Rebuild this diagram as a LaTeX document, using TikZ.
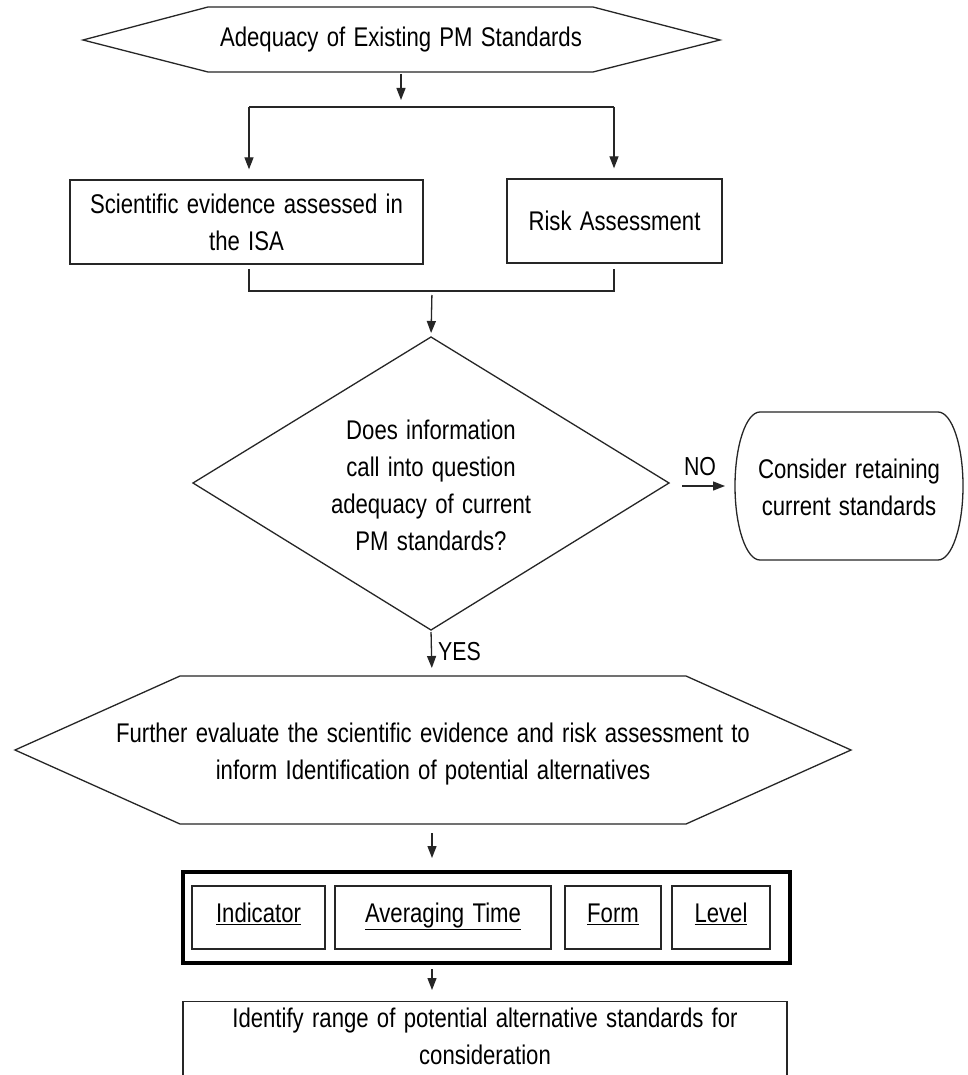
\documentclass[tikz,border=0pt]{standalone}
\usepackage{fontspec}
\setmainfont{Liberation Sans}[FakeStretch=0.82,WordSpace=1.35]
\usetikzlibrary{arrows.meta}
\begin{document}
\begin{tikzpicture}[x=1pt,y=-1pt,
  line/.style={draw=black!85, line width=1.3pt},
  arr/.style={draw=black!85, line width=1.3pt, -{Triangle[length=12pt,width=9pt]}},
  txt/.style={font=\fontsize{27}{37}\selectfont, align=center, inner sep=0pt},
  lbl/.style={font=\fontsize{26}{28}\selectfont, inner sep=0pt},
  plainbox/.style={line, txt, rectangle, inner sep=0pt},
  ubox/.style={plainbox, minimum height=63pt, text height=19pt, text depth=9pt},
  thickbox/.style={draw=black, line width=4pt, rectangle, inner sep=0pt}]
\useasboundingbox (0,0) rectangle (967,1075);
\fill[white] (0,0) rectangle (967,1075);

% top hexagon
\coordinate (h1L) at (83,40);
\coordinate (h1R) at (720,40);
\draw[line] (h1L) -- (208,7) -- (593,7) -- (h1R) -- (593,72) -- (208,72) -- cycle;
\node[txt] (adeq) at (401,40) {Adequacy of Existing PM Standards};
\coordinate (h1B) at (401,74);
\coordinate (j1) at (401,107);
\coordinate (j1L) at (249,107);
\coordinate (j1R) at (614,107);
\draw[arr, shorten >=7pt] (h1B) -- (j1);
\draw[line] (j1L) -- (j1R);

% two boxes
\node[plainbox, minimum width=353pt, minimum height=84pt] (sci) at (246.5,222) {Scientific evidence assessed in\\the ISA};
\node[plainbox, minimum width=215pt, minimum height=84pt] (risk) at (614.5,221) {Risk Assessment};
\draw[arr, shorten >=10pt] (j1L) -- (j1L |- sci.north);
\draw[arr, shorten >=10pt] (j1R) -- (j1R |- risk.north);

% bracket
\coordinate (b1) at (249,269);
\coordinate (b2) at (249,291);
\coordinate (b3) at (614,291);
\coordinate (b4) at (614,269);
\draw[line] (b1) -- (b2) -- (b3) -- (b4);
\coordinate (bm) at (432,291);

% diamond
\coordinate (dT) at (431,337);
\coordinate (dL) at (193,483);
\coordinate (dR) at (669,483);
\coordinate (dB) at (431,630);
\draw[line] (dT) -- (dR) -- (dB) -- (dL) -- cycle;
\node[txt] (q) at (431,485) {Does information\\call into question\\adequacy of current\\PM standards?};
\draw[arr, shorten <=4pt, shorten >=4pt] (bm) -- (dT);

% consider retaining
\draw[line] (760,412) -- (938,412) arc(-90:90:25 and 74) -- (760,560) arc(90:270:25 and 74) -- cycle;
\coordinate (cL) at (735,486);
\node[txt] (keep) at (849,487) {Consider retaining\\current standards};
\draw[arr, shorten <=13pt, shorten >=10pt] (dR |- cL) -- (cL);
\node[lbl] (no) at (700,467) {NO};

% second hexagon
\coordinate (h2L) at (15,750);
\coordinate (h2R) at (851,750);
\coordinate (h2T) at (432,676);
\coordinate (h2B) at (432,824);
\draw[line] (h2L) -- (180,676) -- (686,676) -- (h2R) -- (686,824) -- (180,824) -- cycle;
\node[txt] (further) at (433,754) {Further evaluate the scientific evidence and risk assessment to\\inform Identification of potential alternatives};
\draw[arr, shorten <=2pt, shorten >=8pt] (dB) -- (h2T);
\node[lbl, anchor=west] (yes) at (438,652) {YES};

% thick box with four inner boxes
\node[thickbox, minimum width=607pt, minimum height=91pt] (outer) at (486.5,917.5) {};
\node[ubox, minimum width=133pt] (ind) at (258.5,917.5) {\underline{Indicator}};
\node[ubox, minimum width=216pt] (avg) at (443,917.5) {\underline{Averaging Time}};
\node[ubox, minimum width=96pt] (form) at (613,917.5) {\underline{Form}};
\node[ubox, minimum width=98pt] (lev) at (721,917.5) {\underline{Level}};
\draw[arr, shorten <=9pt, shorten >=12pt] (h2B) -- (h2B |- outer.north);

% final box
\node[line, rectangle, minimum width=604pt, minimum height=120pt, anchor=north, inner sep=0pt] (idbox) at (485,1001) {};
\node[txt] (idtxt) at (485,1036) {Identify range of potential alternative standards for\\consideration};
\draw[arr, shorten <=4pt, shorten >=11pt] (h2B |- outer.south) -- (h2B |- idbox.north);
\end{tikzpicture}
\end{document}
